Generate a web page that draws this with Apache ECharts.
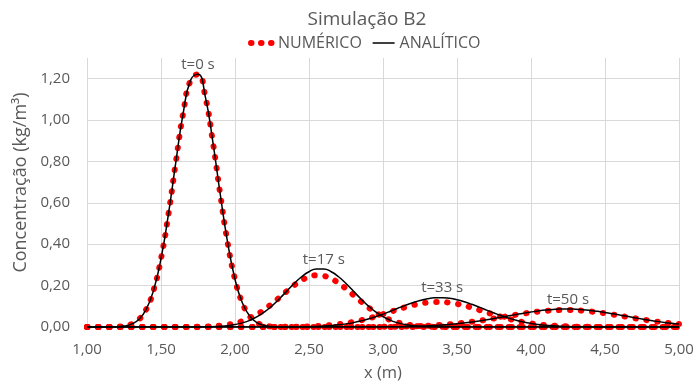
<!DOCTYPE html>
<html>
<head>
<meta charset="utf-8">
<script src="https://cdn.jsdelivr.net/npm/echarts@6/dist/echarts.min.js"></script>
<style>html,body{margin:0;padding:0;background:#fff}#c{width:698px;height:387px}</style>
</head>
<body>
<div id="c"></div>
<script>
// x positions (m)
const X = [1.00,1.05,1.10,1.15,1.20,1.25,1.30,1.35,1.40,1.45,
           1.50,1.55,1.60,1.65,1.70,1.75,1.80,1.85,1.90,1.95,
           2.00,2.05,2.10,2.15,2.20,2.25,2.30,2.35,2.40,2.45,
           2.50,2.55,2.60,2.65,2.70,2.75,2.80,2.85,2.90,2.95,
           3.00,3.05,3.10,3.15,3.20,3.25,3.30,3.35,3.40,3.45,
           3.50,3.55,3.60,3.65,3.70,3.75,3.80,3.85,3.90,3.95,
           4.00,4.05,4.10,4.15,4.20,4.25,4.30,4.35,4.40,4.45,
           4.50,4.55,4.60,4.65,4.70,4.75,4.80,4.85,4.90,4.95,
           5.00];
const Z10 = [0,0,0,0,0,0,0,0,0,0];

// Analytic (black line)
const anaT0 = [0,0,0,0,0.0014,0.0046,0.0136,0.036,0.085,0.178,
               0.330,0.544,0.796,1.034,1.193,1.221,1.111,0.896,0.643,0.409,
               0.231,0.116,0.052,0.020,0.007,0.002,0,0,0,0,
               ...Z10,...Z10,...Z10,...Z10,...Z10,0];
const anaT17 = [...Z10,
               0,0,0,0,0.0001,0.0004,0.0009,0.0018,0.0035,0.0066,
               0.0117,0.0199,0.0322,0.0497,0.0729,0.1021,0.1363,0.1733,0.2101,0.2427,
               0.2671,0.2803,0.2803,0.2671,0.2427,0.2101,0.1733,0.1363,0.1021,0.0729,
               0.0497,0.0322,0.0199,0.0117,0.0066,0.0035,0.0018,0.0009,0.0004,0.0001,
               ...Z10,...Z10,...Z10,0];
const anaT33 = [...Z10,...Z10,
               0,0,0,0,0,0,0,0,0.0006,0.0011,
               0.0018,0.0030,0.0046,0.0071,0.0105,0.0151,0.0212,0.0290,0.0384,0.0496,
               0.0623,0.0761,0.0904,0.1045,0.1174,0.1283,0.1364,0.1410,0.1418,0.1387,
               0.1319,0.1221,0.1098,0.0961,0.0818,0.0677,0.0545,0.0427,0.0325,0.0241,
               0.0174,0.0122,0.0083,0.0055,0.0035,0.0022,0.0014,0.0008,0.0005,0.0002,
               ...Z10,0];
const anaT50 = [...Z10,...Z10,...Z10,
               0,0,0,0,0,0,0,0,0.0003,0.0005,
               0.0007,0.0010,0.0015,0.0021,0.0030,0.0041,0.0055,0.0073,0.0096,0.0124,
               0.0157,0.0197,0.0242,0.0293,0.0350,0.0411,0.0475,0.0541,0.0606,0.0669,
               0.0727,0.0777,0.0818,0.0848,0.0866,0.0870,0.0860,0.0838,0.0803,0.0758,
               0.0704,0.0644,0.0580,0.0515,0.0449,0.0386,0.0327,0.0272,0.0223,0.0180,
               0.0143];

// Numeric (red dots)
const numT0 = [0,0,0,0,0.0014,0.0046,0.0136,0.036,0.085,0.178,
               0.330,0.544,0.796,1.034,1.193,1.221,1.111,0.896,0.643,0.409,
               0.231,0.116,0.052,0.020,0.007,0.002,0,0,0,0,
               ...Z10,...Z10,...Z10,...Z10,...Z10,0];
const numT17 = [...Z10,
               0,0,0,0,0.0005,0.0011,0.0020,0.0038,0.0067,0.0113,
               0.0183,0.0286,0.0429,0.0617,0.0849,0.1123,0.1424,0.1732,0.2020,0.2260,
               0.2426,0.2498,0.2467,0.2337,0.2123,0.1851,0.1547,0.1241,0.0954,0.0704,
               0.0498,0.0338,0.0220,0.0138,0.0082,0.0047,0.0026,0.0014,0.0007,0.0003,
               ...Z10,...Z10,...Z10,0];
const numT33 = [...Z10,...Z10,
               0,0,0,0,0,0,0.0004,0.0008,0.0012,0.0019,
               0.0030,0.0045,0.0067,0.0096,0.0135,0.0185,0.0248,0.0323,0.0411,0.0511,
               0.0620,0.0734,0.0848,0.0955,0.1051,0.1128,0.1181,0.1208,0.1205,0.1173,
               0.1114,0.1033,0.0935,0.0825,0.0711,0.0598,0.0491,0.0393,0.0307,0.0234,
               0.0174,0.0127,0.0090,0.0062,0.0042,0.0028,0.0018,0.0011,0.0007,0.0004,
               ...Z10,0];
const numT50 = [...Z10,...Z10,...Z10,
               0,0,0,0,0,0,0.0002,0.0003,0.0004,0.0006,
               0.0009,0.0013,0.0018,0.0026,0.0035,0.0047,0.0063,0.0082,0.0106,0.0134,
               0.0168,0.0207,0.0252,0.0302,0.0356,0.0413,0.0473,0.0534,0.0593,0.0649,
               0.0701,0.0745,0.0780,0.0805,0.0818,0.0819,0.0808,0.0786,0.0752,0.0710,
               0.0660,0.0605,0.0546,0.0485,0.0425,0.0367,0.0312,0.0261,0.0216,0.0175,
               0.0141];

const timeLabels = ['t=0 s','t=17 s','t=33 s','t=50 s'];
const yTicks = [0,0.2,0.4,0.6,0.8,1.0,1.2];
const xTicks = [1.0,1.5,2.0,2.5,3.0,3.5,4.0,4.5,5.0];

const FONT = '"Open Sans", sans-serif';
const GRAY = '#595959';
const fmt = v => v.toFixed(2).replace('.', ',');
const zip = arr => X.map((x, i) => [x, arr[i]]);
const argmax = arr => { let k = 0; arr.forEach((v, i) => { if (v >= arr[k]) k = i; }); return k; };

const anaList = [anaT0, anaT17, anaT33, anaT50];
const numList = [numT0, numT17, numT33, numT50];

const series = [];
numList.forEach(arr => series.push({
  type: 'line', name: 'NUMÉRICO', data: zip(arr), smooth: true, symbol: 'none', showSymbol: false,
  lineStyle: { color: '#ff0000', width: 6, type: [0.5, 10.5], cap: 'round' },
  itemStyle: { color: '#ff0000' }, z: 2, silent: true
}));
anaList.forEach((arr, j) => {
  const k = argmax(arr);
  series.push({
    type: 'line', name: 'ANALÍTICO', data: zip(arr), smooth: true, symbol: 'none', showSymbol: false,
    lineStyle: { color: '#000000', width: 1.5 }, itemStyle: { color: '#000000' }, z: 3, silent: true,
    markPoint: {
      symbol: 'circle', symbolSize: 0, silent: true,
      label: { show: true, position: 'top', distance: 2, formatter: timeLabels[j],
               color: GRAY, fontSize: 15, fontFamily: FONT },
      data: [{ coord: [X[k], arr[k]] }]
    }
  });
});

const chart = echarts.init(document.getElementById('c'), null, { renderer: 'canvas' });
chart.setOption({
  animation: false,
  backgroundColor: '#ffffff',
  title: {
    text: 'Simulação B2', left: 362, top: 5, textAlign: 'center',
    textStyle: { color: GRAY, fontSize: 19, fontWeight: 'normal', fontFamily: FONT }
  },
  legend: {
    left: 243, top: 30, itemWidth: 22, itemHeight: 10, itemGap: 10,
    textStyle: { color: GRAY, fontSize: 16, fontFamily: FONT },
    data: [
      { name: 'NUMÉRICO', itemStyle: { opacity: 0 },
        lineStyle: { color: '#ff0000', width: 6, type: [0.5, 9.5], cap: 'round', opacity: 1 } },
      { name: 'ANALÍTICO', itemStyle: { opacity: 0 },
        lineStyle: { color: '#000000', width: 1.5, type: 'solid', opacity: 1 } }
    ]
  },
  grid: { left: 87, right: 19, top: 58, bottom: 60, containLabel: false },
  xAxis: {
    type: 'value', min: xTicks[0], max: xTicks[xTicks.length - 1], interval: 0.5,
    name: 'x (m)', nameLocation: 'middle', nameGap: 38,
    nameTextStyle: { color: GRAY, fontSize: 16.5, fontFamily: FONT },
    axisLine: { show: true, lineStyle: { color: '#d9d9d9' } },
    axisTick: { show: false },
    axisLabel: { color: GRAY, fontSize: 15, fontFamily: FONT, margin: 15, formatter: fmt },
    splitLine: { show: true, lineStyle: { color: '#d9d9d9', width: 1 } }
  },
  yAxis: {
    type: 'value', min: yTicks[0], max: 1.3, interval: 0.2,
    name: 'Concentração (kg/m³)', nameLocation: 'middle', nameGap: 54,
    nameTextStyle: { color: GRAY, fontSize: 18, fontFamily: FONT, padding: [0, 0, 0, 20] },
    axisLine: { show: false }, axisTick: { show: false },
    axisLabel: { color: GRAY, fontSize: 15, fontFamily: FONT, margin: 17,
                 formatter: v => (v > yTicks[yTicks.length - 1] + 0.01 ? '' : fmt(v)) },
    splitLine: { show: true, showMaxLine: false, lineStyle: { color: '#d9d9d9', width: 1 } }
  },
  series: series
});
</script>
</body>
</html>
